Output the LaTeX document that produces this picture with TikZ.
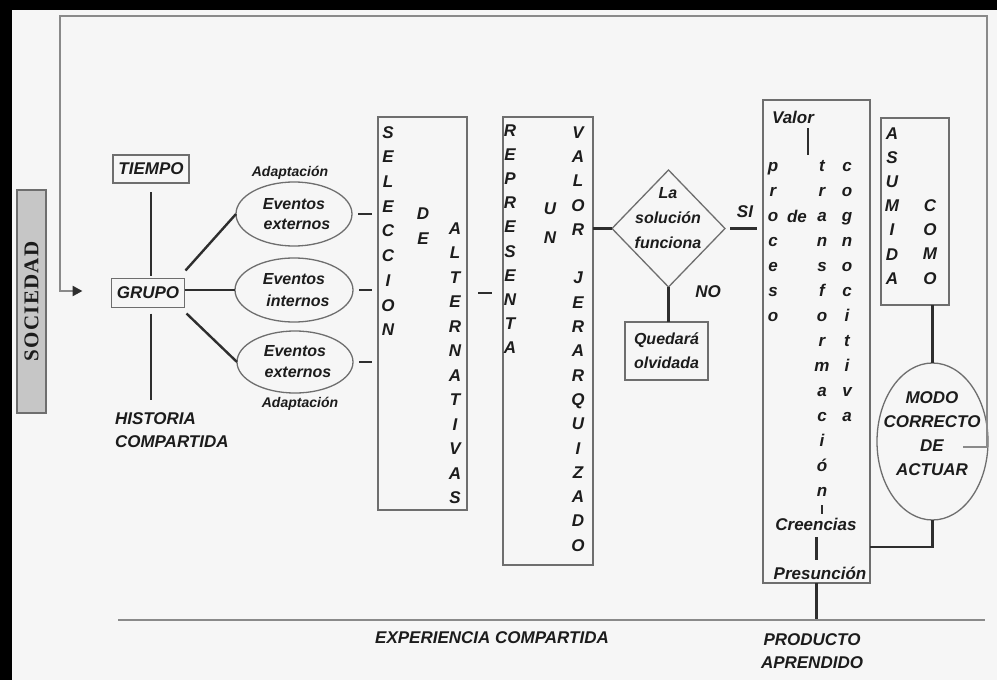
\documentclass[tikz,border=0pt]{standalone}
\usepackage{fontspec}
\setmainfont{Liberation Sans}
\newfontfamily\socfont[LetterSpace=6]{Liberation Serif}
\usetikzlibrary{shapes.geometric,arrows.meta}
\definecolor{bgc}{HTML}{F6F6F6}
\definecolor{lnc}{HTML}{2E2E2E}
\definecolor{lgc}{HTML}{8A8A8A}
\definecolor{bxc}{HTML}{6E6E6E}
\definecolor{txc}{HTML}{1C1C1C}
\definecolor{socc}{HTML}{C6C6C6}
\begin{document}
\begin{tikzpicture}[x=1pt,y=-1pt,
 every node/.style={inner sep=0pt,outer sep=0pt,text=txc},
 lab/.style={font=\fontsize{17}{21}\selectfont\bfseries\itshape},
 sml/.style={font=\fontsize{14}{16}\selectfont\bfseries\itshape},
 ucl/.style={lab,text height=12.2pt,text depth=0pt},
 lcl/.style={lab,text height=8.8pt,text depth=0pt},
 bx/.style={draw=bxc,line width=1.3pt},
 cn/.style={draw=lnc,line width=2.4pt},
 gl/.style={draw=lgc,line width=2.4pt},
]
\useasboundingbox (0,0) rectangle (997,680);
\fill[bgc] (0,0) rectangle (997,680);
\fill[black] (0,0) rectangle (997,10);
\fill[black] (0,0) rectangle (12,680);

% coordinates for free ends
\coordinate (fbA) at (963,447);
\coordinate (fbB) at (987,16);
\coordinate (fbC) at (60,291);
\coordinate (sr) at (485,293);
\coordinate (mb) at (932,547);
\coordinate (bl) at (118,620);
\coordinate (br) at (985,620);

% SOCIEDAD
\node[rotate=90, draw=bxc, fill=socc, line width=1.2pt, minimum width=223, minimum height=29,
      font=\socfont\fontsize{21}{21}\selectfont\bfseries] (soc) at (31.5,301.5) {SOCIEDAD};

% left part
\node[bx, lab, minimum width=76, minimum height=28] (tiempo) at (151,169) {TIEMPO};
\node[bx, lab, minimum width=73, minimum height=29] (grupo) at (148,293) {GRUPO};
\node[lab, align=left, anchor=north west, font=\fontsize{17}{23}\selectfont\bfseries\itshape] (hist) at (115,413) {HISTORIA\\COMPARTIDA};

\node[ellipse, bx, minimum width=116, minimum height=64, align=center,
      font=\fontsize{16}{20}\selectfont\bfseries\itshape] (e1) at (294,214) {Eventos\\\hspace*{6pt}externos};
\node[ellipse, bx, minimum width=118, minimum height=64, align=center,
      font=\fontsize{16}{22}\selectfont\bfseries\itshape] (e2) at (294,290) {Eventos\\\hspace*{8pt}internos};
\node[ellipse, bx, minimum width=116, minimum height=62, align=center,
      font=\fontsize{16}{21}\selectfont\bfseries\itshape] (e3) at (295,362) {Eventos\\\hspace*{6pt}externos};
\node[sml] (ad1) at (290,173) {Adaptación};
\node[sml] (ad2) at (300,404) {Adaptación};

\draw[cn, shorten <=9pt, shorten >=3pt] (tiempo.south) -- (tiempo.south |- grupo.north);
\draw[cn, shorten <=6pt, shorten >=13pt] (tiempo.south |- grupo.south) -- (tiempo.south |- hist.north);
\draw[cn] ([shift={(1,-8)}]grupo.north east) -- (e1.west);
\draw[cn] (grupo.east |- e2.west) -- (e2.west);
\draw[cn] ([shift={(2,6)}]grupo.south east) -- (e3.west);

% SELECCION DE ALTERNATIVAS
\node[bx, minimum width=89, minimum height=393] (sel) at (422.5,313.5) {};
\foreach \ch [count=\i from 0] in {S,E,L,E,C,C,I,O,N}
  \node[ucl] (sel-\i) at (388,132+24.7*\i) {\ch};
\foreach \ch [count=\i from 0] in {D,E}
  \node[ucl] (de-\i) at (423,213+25*\i) {\ch};
\foreach \ch [count=\i from 0] in {A,L,T,E,R,N,A,T,I,V,A,S}
  \node[ucl] (alt-\i) at (455,228+24.5*\i) {\ch};
\foreach \e in {e1,e2,e3}
  \draw[cn, shorten <=6pt, shorten >=6pt] (\e.east) -- (sel.west |- \e.east);

% REPRESENTA UN VALOR JERARQUIZADO
\node[bx, minimum width=90, minimum height=448] (rep) at (548,341) {};
\draw[cn, shorten <=11pt, shorten >=11pt] (sel.east |- sr) -- (rep.west |- sr);
\foreach \ch [count=\i from 0] in {R,E,P,R,E,S,E,N,T,A}
  \node[ucl] (rp-\i) at (510,130+24.2*\i) {\ch};
\foreach \ch [count=\i from 0] in {U,N}
  \node[ucl] (un-\i) at (550,208+29*\i) {\ch};
\foreach \ch [count=\i from 0] in {V,A,L,O,R}
  \node[ucl] (va-\i) at (578,132+24.3*\i) {\ch};
\foreach \ch [count=\i from 6] in {J,E,R,A,R,Q,U,I,Z,A,D,O}
  \node[ucl] (je-\i) at (578,132+24.3*\i) {\ch};

% decision
\node[diamond, bx, minimum width=113, minimum height=117] (dia) at (668.5,228.5) {};
\node[lab, align=center, font=\fontsize{16}{25}\selectfont\bfseries\itshape] (diat) at (668,218) {La\\solución\\funciona};
\draw[cn] (rep.east |- dia.west) -- (dia.west);
\node[bx, align=center, minimum width=83, minimum height=58,
      font=\fontsize{16}{24}\selectfont\bfseries\itshape] (qued) at (666.5,351) {Quedará\\olvidada};
\draw[cn] (dia.south) -- (dia.south |- qued.north);
\node[lab] (no) at (708,292) {NO};
\node[lab] (si) at (745,212) {SI};

% big box
\node[bx, minimum width=107, minimum height=483] (big) at (816.5,341.5) {};
\draw[cn, shorten <=5pt, shorten >=6pt] (dia.east) -- (big.west |- dia.east);
\node[lab] (valor) at (793,117) {Valor};
\draw[cn] ([shift={(15,5)}]valor.south) -- ([shift={(15,32)}]valor.south);
\foreach \ch [count=\i from 0] in {p,r,o,c,e,s,o}
  \node[lcl] (pr-\i) at (773,167+25*\i) {\ch};
\node[lab] (dew) at (797,216) {de};
\foreach \ch [count=\i from 0] in {t,r,a,n,s,f,o,r,m,a,c,i,ó,n}
  \node[lcl] (tr-\i) at (822,167+25*\i) {\ch};
\foreach \ch [count=\i from 0] in {c,o,g,n,o,c,i,t,i,v,a}
  \node[lcl] (cg-\i) at (847,167+25*\i) {\ch};
\node[lab] (cre) at (816,524) {Creencias};
\node[lab] (pre) at (820,573) {Presunción};
\draw[cn, shorten <=9pt, shorten >=4pt] (tr-13.south) -- (tr-13.south |- cre.north);
\draw[cn, shorten <=7pt, shorten >=7pt] (cre.south -| big.south) -- (pre.north -| big.south);
\draw[cn] (big.south) -- (big.south |- bl);

% ASUMIDA COMO
\node[bx, minimum width=68, minimum height=187] (asum) at (915,211.5) {};
\foreach \ch [count=\i from 0] in {A,S,U,M,I,D,A}
  \node[ucl] (as-\i) at (892,133+24.2*\i) {\ch};
\foreach \ch [count=\i from 0] in {C,O,M,O}
  \node[ucl] (co-\i) at (930,205+24.3*\i) {\ch};

% MODO CORRECTO
\node[ellipse, bx, minimum width=111, minimum height=157] (modo) at (932.5,441.5) {};
\node[lab, align=center, font=\fontsize{17}{24}\selectfont\bfseries\itshape] (modot) at (932,434) {MODO\\CORRECTO\\DE\\ACTUAR};
\draw[cn] (modo.north) -- (modo.north |- asum.south);
\draw[cn] (modo.south) |- (big.east |- mb);

% feedback loop
\draw[gl, -{Triangle[length=10pt,width=10pt,color=lnc]}, shorten >=29pt] (fbA) -| (fbB) -| (fbC) -- (grupo.west |- fbC);

% bottom
\draw[gl] (bl) -- (br);
\node[lab] (exp) at (492,638) {EXPERIENCIA COMPARTIDA};
\node[lab, align=center, font=\fontsize{17}{23}\selectfont\bfseries\itshape] (prod) at (812,651) {PRODUCTO\\APRENDIDO};
\end{tikzpicture}
\end{document}
